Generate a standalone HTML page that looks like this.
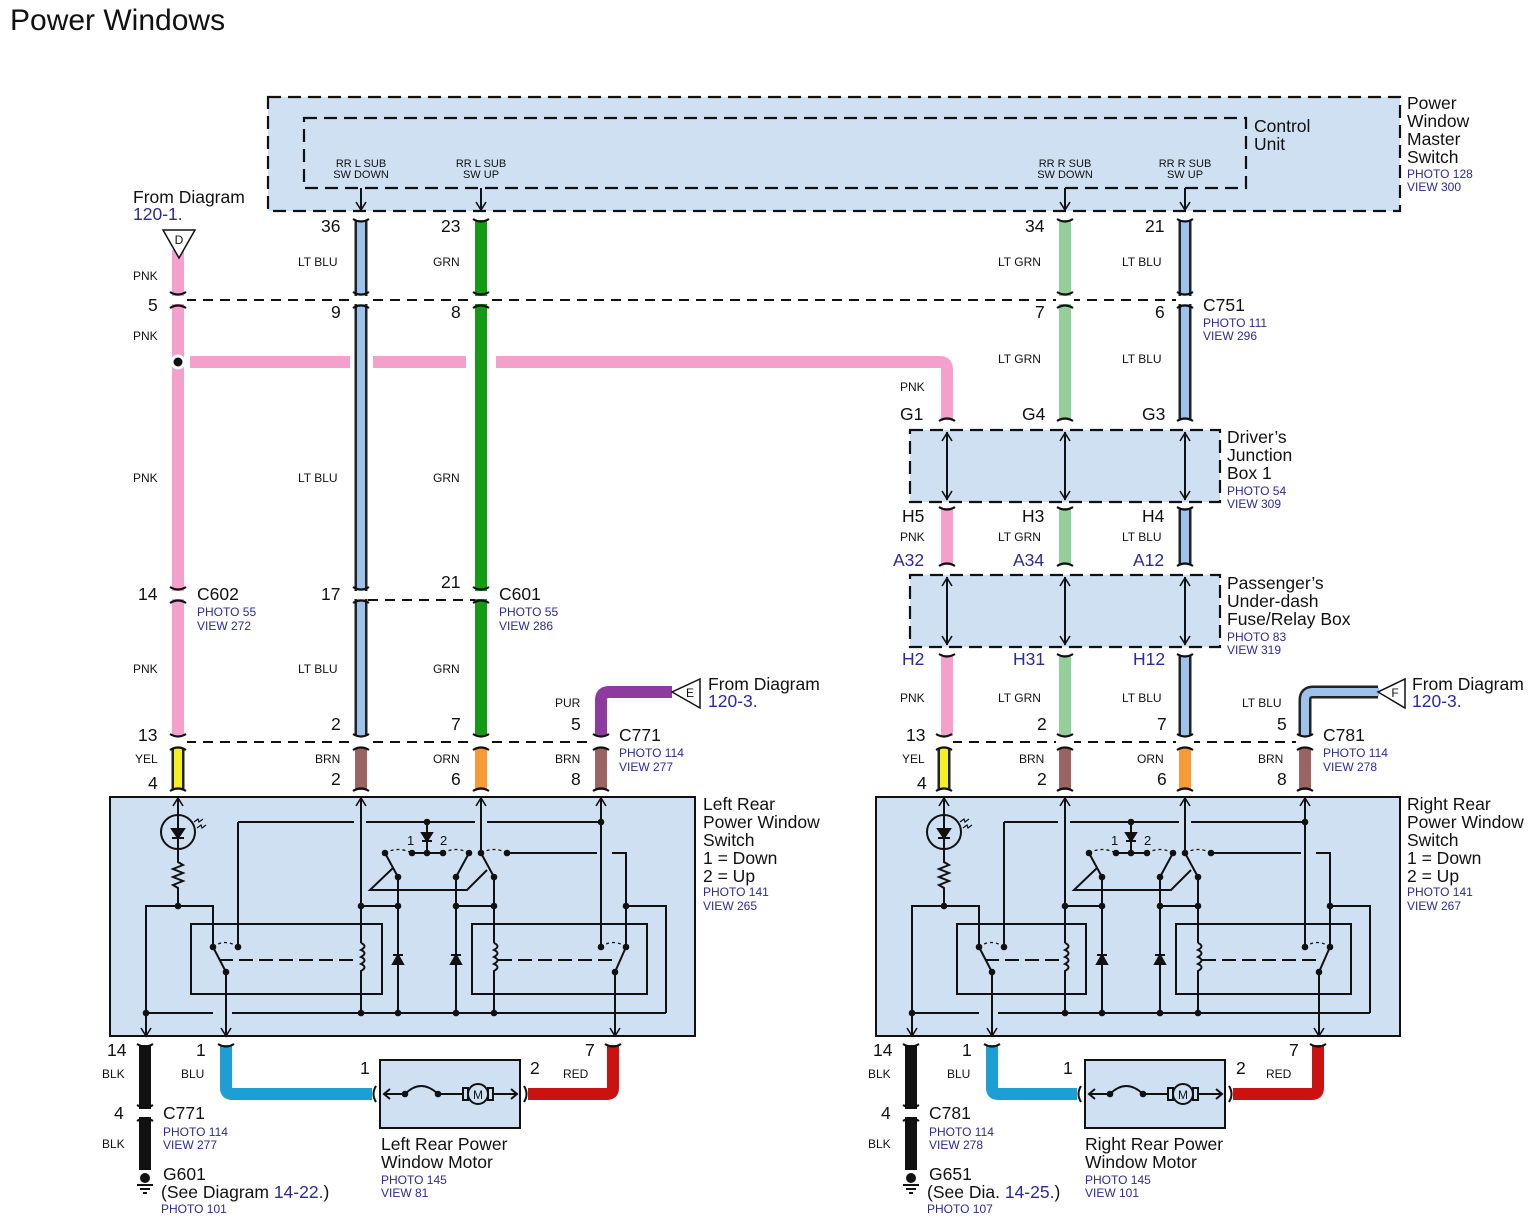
<!DOCTYPE html>
<html><head><meta charset="utf-8">
<style>
html,body{margin:0;padding:0;background:#fff;}
svg{display:block;font-family:"Liberation Sans",sans-serif;}
.s{font-size:12px;fill:#111;}
.m{font-size:17.5px;fill:#111;}
.b{font-size:12px;fill:#2a2a9a;}
.bm{font-size:17.5px;fill:#2a2a9a;}
.k{stroke:#111;stroke-width:2;fill:none;}
.d{stroke:#111;stroke-width:2.2;stroke-dasharray:13 7;}
.dd{stroke:#111;stroke-width:1.3;fill:none;stroke-dasharray:3 3;}
</style></head><body>
<svg width="1534" height="1223" viewBox="0 0 1534 1223" xmlns="http://www.w3.org/2000/svg">
<defs>
<g id="brk"><rect x="-9" y="-4" width="18" height="8" fill="#fff"/><path d="M-8,-8 Q0,-3 8,-8 M-8,8 Q0,3 8,8" stroke="#111" stroke-width="2.2" fill="none"/></g>
<g id="capT"><path d="M-8,-3 Q0,2 8,-3" stroke="#111" stroke-width="2.2" fill="none"/></g>
<g id="capB"><path d="M-8,3 Q0,-2 8,3" stroke="#111" stroke-width="2.2" fill="none"/></g>
<path id="au" d="M-5,8 L0,0 L5,8" stroke="#111" stroke-width="1.6" fill="none"/>
<path id="ad" d="M-5,-8 L0,0 L5,-8" stroke="#111" stroke-width="1.6" fill="none"/>
<circle id="dot" r="3.3" fill="#111"/>
<g id="partA">
<line x1="178" y1="797" x2="178" y2="815" class="k"/>
<use href="#au" x="178" y="798"/>
<circle cx="178" cy="832" r="17" class="k" stroke-width="2.5"/>
<path d="M172,829 L184,829 L178,838 Z M172,838 L184,838 M178,815 L178,849" class="k" style="fill:#111"/>
<path d="M194,822 l4,-3 l1,3 l4,-3 M197,828 l4,-3 l1,3 l4,-3" stroke="#111" stroke-width="1.2" fill="none"/>
<path d="M178,849 L178,862 l5,3 l-10,4 l10,4 l-10,4 l10,4 l-10,4 l5,3 L178,906" class="k"/>
<use href="#dot" x="178" y="906"/>
<path d="M146,1036 L146,906 L213,906 L213,947" class="k"/>
<use href="#ad" x="146" y="1036"/>
<use href="#dot" x="146" y="1013"/>
<use href="#dot" x="213" y="947"/>
<use href="#dot" x="238" y="947"/>
<path d="M213,947 Q225,938 238,947" class="dd"/>
<path d="M238,822 L238,947" class="k"/>
<path d="M213,947 L226,972 L226,1036" class="k"/>
<use href="#dot" x="226" y="972"/>
<use href="#ad" x="226" y="1036"/>
</g>
<g id="partB">
<path d="M366,822 L475,822 M487,822 L601,822" class="k"/>
<use href="#dot" x="427" y="822"/><use href="#dot" x="601" y="822"/>
<path d="M427,822 L427,853" class="k"/>
<path d="M422,833 L432,833 L427,841 Z M422,841 L432,841" class="k" style="fill:#111"/>
<text x="407" y="845" class="s" style="font-size:13px">1</text>
<text x="440" y="845" class="s" style="font-size:13px">2</text>
<path d="M412,853 L443,853" class="k"/>
<path d="M385,853 Q398,846 412,853 M443,853 Q456,846 469,853 M481,853 Q494,846 507,853" class="dd"/>
<use href="#dot" x="385" y="853"/><use href="#dot" x="412" y="853"/><use href="#dot" x="427" y="853"/><use href="#dot" x="443" y="853"/><use href="#dot" x="469" y="853"/><use href="#dot" x="481" y="853"/><use href="#dot" x="507" y="853"/>
<path d="M398,877 L385,853 M456,877 L469,853 M494,877 L481,853" class="k" stroke-width="1.5"/>
<path d="M393,868 L370,890 L467,890 L487,870" class="k" stroke-width="1.5"/>
<path d="M361,797 L361,1013 M361,906 L398,906 M398,877 L398,1013 M456,877 L456,1013 M456,906 L494,906 M494,877 L494,1013" class="k"/>
<use href="#au" x="361" y="798"/>
<path d="M481,797 L481,853" class="k"/><use href="#au" x="481" y="798"/>
<use href="#dot" x="398" y="877"/><use href="#dot" x="456" y="877"/><use href="#dot" x="494" y="877"/>
<use href="#dot" x="361" y="906"/><use href="#dot" x="398" y="906"/><use href="#dot" x="456" y="906"/><use href="#dot" x="494" y="906"/>
<use href="#dot" x="361" y="1013"/><use href="#dot" x="398" y="1013"/><use href="#dot" x="456" y="1013"/><use href="#dot" x="494" y="1013"/>
<rect x="355" y="943" width="12" height="32" fill="#cfe0f3"/>
<path d="M361,943 q7,3 0,7 q7,3 0,7 q7,3 0,7 q7,3 0,7 L361,975" class="k"/>
<rect x="488" y="943" width="12" height="32" fill="#cfe0f3"/>
<path d="M494,943 q7,3 0,7 q7,3 0,7 q7,3 0,7 q7,3 0,7 L494,975" class="k"/>
<path d="M393,964 L403,964 L398,955 Z M393,955 L403,955" class="k" style="fill:#111" stroke-width="1.5"/>
<path d="M451,964 L461,964 L456,955 Z M451,955 L461,955" class="k" style="fill:#111" stroke-width="1.5"/>
<path d="M507,853 L597,853 M612,853 L626,853 L626,947 M626,906 L666,906 L666,1013" class="k"/>
<use href="#dot" x="626" y="906"/>
<rect x="472" y="924" width="175" height="70" class="k" stroke-width="2.5"/>
<path d="M601,797 L601,947" class="k"/><use href="#au" x="601" y="798"/>
<use href="#dot" x="601" y="947"/><use href="#dot" x="626" y="947"/>
<path d="M601,947 Q613,938 626,947" class="dd"/>
<path d="M626,947 L615,972 L615,1036" class="k"/>
<use href="#dot" x="615" y="972"/>
<use href="#ad" x="615" y="1036"/>
<path d="M498,960 L615,960" class="k" stroke-width="1.3" stroke-dasharray="14 6"/>
</g>
<g id="motor">
<rect x="380" y="1060" width="140" height="68" fill="#cfe0f3" stroke="#111" stroke-width="2"/>
<path d="M384,1094 L405,1094 M438,1094 L463,1094 M493,1094 L517,1094" class="k" stroke-width="1.5"/>
<path d="M390,1089 L384,1094 L390,1099 M511,1089 L517,1094 L511,1099" class="k" stroke-width="1.5"/>
<path d="M405,1094 Q421,1078 438,1094" class="k" stroke-width="1.5"/>
<use href="#dot" x="405" y="1094"/><use href="#dot" x="438" y="1094"/>
<rect x="463" y="1088" width="5" height="12" class="k" stroke-width="1.5"/>
<rect x="488" y="1088" width="5" height="12" class="k" stroke-width="1.5"/>
<circle cx="478" cy="1094" r="10" class="k" style="fill:#cfe0f3" stroke-width="1.5"/>
<text x="478" y="1099" text-anchor="middle" class="s" style="font-size:12px">M</text>
<path d="M376,1086 Q371,1094 376,1102 M524,1086 Q529,1094 524,1102" class="k" stroke-width="2.5"/>
</g>
</defs>

<text x="10" y="30" style="font-size:30px" fill="#111">Power Windows</text>

<rect x="268" y="97" width="1132" height="114" class="d" style="fill:#cfe0f3"/>
<rect x="304" y="118" width="942" height="70" class="d" style="fill:none"/>
<g class="s" style="font-size:11px" text-anchor="middle">
<text x="361" y="167">RR L SUB</text><text x="361" y="178">SW DOWN</text>
<text x="481" y="167">RR L SUB</text><text x="481" y="178">SW UP</text>
<text x="1065" y="167">RR R SUB</text><text x="1065" y="178">SW DOWN</text>
<text x="1185" y="167">RR R SUB</text><text x="1185" y="178">SW UP</text>
</g>
<path d="M361,188 L361,210 M481,188 L481,210 M1065,188 L1065,210 M1185,188 L1185,210" class="k" stroke-width="1.5"/>
<use href="#ad" x="361" y="210"/><use href="#ad" x="481" y="210"/><use href="#ad" x="1065" y="210"/><use href="#ad" x="1185" y="210"/>
<text x="1254" y="132" class="m">Control</text><text x="1254" y="150" class="m">Unit</text>
<text x="1407" y="109" class="m">Power</text><text x="1407" y="127" class="m">Window</text><text x="1407" y="145" class="m">Master</text><text x="1407" y="163" class="m">Switch</text>
<text x="1407" y="178" class="b">PHOTO 128</text><text x="1407" y="191" class="b">VIEW 300</text>

<rect x="910" y="430" width="310" height="72" class="d" style="fill:#cfe0f3"/>
<rect x="910" y="575" width="310" height="72" class="d" style="fill:#cfe0f3"/>
<g class="k" stroke-width="1.5">
<path d="M947,432 L947,500 M1065,432 L1065,500 M1185,432 L1185,500 M947,577 L947,645 M1065,577 L1065,645 M1185,577 L1185,645"/>
</g>
<use href="#au" x="947" y="433"/><use href="#ad" x="947" y="499"/><use href="#au" x="1065" y="433"/><use href="#ad" x="1065" y="499"/><use href="#au" x="1185" y="433"/><use href="#ad" x="1185" y="499"/>
<use href="#au" x="947" y="578"/><use href="#ad" x="947" y="644"/><use href="#au" x="1065" y="578"/><use href="#ad" x="1065" y="644"/><use href="#au" x="1185" y="578"/><use href="#ad" x="1185" y="644"/>
<text x="1227" y="443" class="m">Driver’s</text><text x="1227" y="461" class="m">Junction</text><text x="1227" y="479" class="m">Box 1</text>
<text x="1227" y="495" class="b">PHOTO 54</text><text x="1227" y="508" class="b">VIEW 309</text>
<text x="1227" y="589" class="m">Passenger’s</text><text x="1227" y="607" class="m">Under-dash</text><text x="1227" y="625" class="m">Fuse/Relay Box</text>
<text x="1227" y="641" class="b">PHOTO 83</text><text x="1227" y="654" class="b">VIEW 319</text>

<path d="M186,300 L1180,300 M368,600 L476,600 M186,742 L596,742 M952,742 L1300,742" class="k" stroke-width="1.5" stroke-dasharray="10 7"/>

<g fill="none" stroke-linecap="butt">
<path d="M178,250 L178,736" stroke="#f4a0cc" stroke-width="12"/>
<path d="M190,362 L350,362 M373,362 L466,362 M496,362 L940,362 Q947,362 947,370 L947,420" stroke="#f4a0cc" stroke-width="12"/>
<path d="M947,508 L947,565 M947,655 L947,736" stroke="#f4a0cc" stroke-width="12"/>
<path d="M361,220 L361,736" stroke="#222" stroke-width="13"/><path d="M361,220 L361,736" stroke="#9dc3ec" stroke-width="8"/>
<path d="M481,220 L481,736" stroke="#159a15" stroke-width="12"/>
<path d="M1065,220 L1065,420 M1065,508 L1065,565 M1065,655 L1065,736" stroke="#93cf98" stroke-width="12"/>
<path d="M1185,220 L1185,420 M1185,508 L1185,565 M1185,655 L1185,736" stroke="#222" stroke-width="13"/>
<path d="M1185,220 L1185,420 M1185,508 L1185,565 M1185,655 L1185,736" stroke="#9dc3ec" stroke-width="8"/>
<path d="M601,736 L601,700 Q601,692 609,692 L672,692" stroke="#8e3a9e" stroke-width="12"/>
<path d="M1305,736 L1305,700 Q1305,692 1313,692 L1378,692" stroke="#222" stroke-width="13"/>
<path d="M1305,736 L1305,700 Q1305,692 1313,692 L1379,692" stroke="#9dc3ec" stroke-width="8"/>
<path d="M178,748 L178,790" stroke="#222" stroke-width="13"/><path d="M178,748 L178,790" stroke="#f5ee20" stroke-width="8"/>
<path d="M944,748 L944,790" stroke="#222" stroke-width="13"/><path d="M944,748 L944,790" stroke="#f5ee20" stroke-width="8"/>
<path d="M361,748 L361,790 M601,748 L601,790 M1065,748 L1065,790 M1305,748 L1305,790" stroke="#9a6462" stroke-width="12"/>
<path d="M481,748 L481,790 M1185,748 L1185,790" stroke="#f89a35" stroke-width="12"/>
<path d="M145,1045 L145,1170 M911,1045 L911,1170" stroke="#111" stroke-width="12"/>
<path d="M226,1045 L226,1088 Q226,1094 232,1094 L372,1094" stroke="#1e9fd4" stroke-width="12"/>
<path d="M992,1045 L992,1088 Q992,1094 998,1094 L1077,1094" stroke="#1e9fd4" stroke-width="12"/>
<path d="M528,1094 L607,1094 Q613,1094 613,1088 L613,1045" stroke="#cc1111" stroke-width="12"/>
<path d="M1233,1094 L1312,1094 Q1318,1094 1318,1088 L1318,1045" stroke="#cc1111" stroke-width="12"/>
</g>
<circle cx="178" cy="362" r="6" fill="#111" stroke="#fff" stroke-width="3"/>

<use href="#brk" x="178" y="300"/><use href="#brk" x="361" y="300"/><use href="#brk" x="481" y="300"/><use href="#brk" x="1065" y="300"/><use href="#brk" x="1185" y="300"/>
<use href="#brk" x="178" y="595"/><use href="#brk" x="361" y="595"/><use href="#brk" x="481" y="595"/>
<use href="#brk" x="178" y="742"/><use href="#brk" x="361" y="742"/><use href="#brk" x="481" y="742"/><use href="#brk" x="601" y="742"/>
<use href="#brk" x="944" y="742"/><use href="#brk" x="1065" y="742"/><use href="#brk" x="1185" y="742"/><use href="#brk" x="1305" y="742"/>
<use href="#brk" x="145" y="1113"/><use href="#brk" x="911" y="1113"/>
<g>
<use href="#capT" x="361" y="222"/><use href="#capT" x="481" y="222"/><use href="#capT" x="1065" y="222"/><use href="#capT" x="1185" y="222"/>
<use href="#capB" x="947" y="418"/><use href="#capB" x="1065" y="418"/><use href="#capB" x="1185" y="418"/>
<use href="#capT" x="947" y="510"/><use href="#capT" x="1065" y="510"/><use href="#capT" x="1185" y="510"/>
<use href="#capB" x="947" y="563"/><use href="#capB" x="1065" y="563"/><use href="#capB" x="1185" y="563"/>
<use href="#capT" x="947" y="657"/><use href="#capT" x="1065" y="657"/><use href="#capT" x="1185" y="657"/>
<use href="#capB" x="178" y="788"/><use href="#capB" x="361" y="788"/><use href="#capB" x="481" y="788"/><use href="#capB" x="601" y="788"/>
<use href="#capB" x="944" y="788"/><use href="#capB" x="1065" y="788"/><use href="#capB" x="1185" y="788"/><use href="#capB" x="1305" y="788"/>
<use href="#capT" x="145" y="1047"/><use href="#capT" x="226" y="1047"/><use href="#capT" x="613" y="1047"/>
<use href="#capT" x="911" y="1047"/><use href="#capT" x="992" y="1047"/><use href="#capT" x="1318" y="1047"/>
</g>

<path d="M163,230 L195,230 L179,258 Z" fill="#fff" stroke="#111" stroke-width="1.5"/><text x="179" y="244" text-anchor="middle" class="s">D</text>
<path d="M700,679 L700,708 L672,692 Z" fill="#fff" stroke="#111" stroke-width="1.5"/><text x="690" y="697" text-anchor="middle" class="s">E</text>
<path d="M1405,679 L1405,708 L1378,692 Z" fill="#fff" stroke="#111" stroke-width="1.5"/><text x="1395" y="697" text-anchor="middle" class="s">F</text>

<g><circle cx="145" cy="1178" r="5" fill="#111"/><path d="M137,1185 L153,1185 M140,1189 L150,1189 M143,1193 L147,1193" class="k" stroke-width="1.3"/></g>
<g><circle cx="911" cy="1178" r="5" fill="#111"/><path d="M903,1185 L919,1185 M906,1189 L916,1189 M909,1193 L913,1193" class="k" stroke-width="1.3"/></g>

<rect x="110" y="797" width="585" height="239" fill="#cfe0f3" stroke="#111" stroke-width="2"/>
<rect x="876" y="797" width="524" height="239" fill="#cfe0f3" stroke="#111" stroke-width="2"/>
<use href="#partA"/><use href="#partB"/>
<path d="M238,822 L354,822 M146,1013 L213,1013 M232,1013 L666,1013" class="k"/>
<rect x="191" y="924" width="191" height="70" class="k" stroke-width="2.5"/>
<path d="M219,960 L356,960" class="k" stroke-width="1.3" stroke-dasharray="14 6"/>
<use href="#partA" x="766"/><use href="#partB" x="704"/>
<path d="M1004,822 L1058,822 M912,1013 L979,1013 M998,1013 L1370,1013" class="k"/>
<rect x="957" y="924" width="129" height="70" class="k" stroke-width="2.5"/>
<path d="M985,960 L1060,960" class="k" stroke-width="1.3" stroke-dasharray="14 6"/>

<use href="#motor"/><use href="#motor" x="705"/>

<text x="133" y="203" class="m">From Diagram</text><text x="133" y="220" class="bm">120-1.</text>
<g class="s">
<text x="133" y="280">PNK</text><text x="133" y="340">PNK</text><text x="133" y="482">PNK</text><text x="133" y="673">PNK</text><text x="135" y="763">YEL</text>
<text x="298" y="266">LT BLU</text><text x="298" y="482">LT BLU</text><text x="298" y="673">LT BLU</text><text x="315" y="763">BRN</text>
<text x="433" y="266">GRN</text><text x="433" y="482">GRN</text><text x="433" y="673">GRN</text><text x="433" y="763">ORN</text>
<text x="555" y="707">PUR</text><text x="555" y="763">BRN</text>
<text x="998" y="266">LT GRN</text><text x="998" y="363">LT GRN</text><text x="998" y="541">LT GRN</text><text x="998" y="702">LT GRN</text><text x="1019" y="763">BRN</text>
<text x="1122" y="266">LT BLU</text><text x="1122" y="363">LT BLU</text><text x="1122" y="541">LT BLU</text><text x="1122" y="702">LT BLU</text><text x="1137" y="763">ORN</text>
<text x="900" y="391">PNK</text><text x="900" y="541">PNK</text><text x="900" y="702">PNK</text><text x="902" y="763">YEL</text>
<text x="1242" y="707">LT BLU</text><text x="1258" y="763">BRN</text>
<text x="102" y="1078">BLK</text><text x="181" y="1078">BLU</text><text x="563" y="1078">RED</text><text x="102" y="1148">BLK</text>
<text x="868" y="1078">BLK</text><text x="947" y="1078">BLU</text><text x="1266" y="1078">RED</text><text x="868" y="1148">BLK</text>
</g>
<g class="m">
<text x="148" y="311">5</text><text x="138" y="600">14</text><text x="138" y="741">13</text><text x="148" y="789">4</text>
<text x="321" y="232">36</text><text x="331" y="318">9</text><text x="321" y="600">17</text><text x="331" y="730">2</text><text x="331" y="785">2</text>
<text x="441" y="232">23</text><text x="451" y="318">8</text><text x="441" y="588">21</text><text x="451" y="730">7</text><text x="451" y="785">6</text>
<text x="571" y="730">5</text><text x="571" y="785">8</text>
<text x="1025" y="232">34</text><text x="1035" y="318">7</text><text x="1022" y="420">G4</text><text x="1022" y="522">H3</text><text x="1037" y="730">2</text><text x="1037" y="785">2</text>
<text x="1145" y="232">21</text><text x="1155" y="318">6</text><text x="1142" y="420">G3</text><text x="1142" y="522">H4</text><text x="1157" y="730">7</text><text x="1157" y="785">6</text>
<text x="900" y="420">G1</text><text x="902" y="522">H5</text><text x="906" y="741">13</text><text x="917" y="789">4</text>
<text x="1277" y="730">5</text><text x="1277" y="785">8</text>
<text x="107" y="1056">14</text><text x="196" y="1056">1</text><text x="360" y="1074">1</text><text x="530" y="1074">2</text><text x="585" y="1056">7</text><text x="114" y="1119">4</text>
<text x="873" y="1056">14</text><text x="962" y="1056">1</text><text x="1063" y="1074">1</text><text x="1236" y="1074">2</text><text x="1289" y="1056">7</text><text x="881" y="1119">4</text>
</g>
<g class="bm">
<text x="893" y="566">A32</text><text x="1013" y="566">A34</text><text x="1133" y="566">A12</text>
<text x="902" y="665">H2</text><text x="1013" y="665">H31</text><text x="1133" y="665">H12</text>
</g>
<text x="197" y="600" class="m">C602</text><text x="197" y="616" class="b">PHOTO 55</text><text x="197" y="630" class="b">VIEW 272</text>
<text x="499" y="600" class="m">C601</text><text x="499" y="616" class="b">PHOTO 55</text><text x="499" y="630" class="b">VIEW 286</text>
<text x="1203" y="311" class="m">C751</text><text x="1203" y="327" class="b">PHOTO 111</text><text x="1203" y="340" class="b">VIEW 296</text>
<text x="619" y="741" class="m">C771</text><text x="619" y="757" class="b">PHOTO 114</text><text x="619" y="771" class="b">VIEW 277</text>
<text x="1323" y="741" class="m">C781</text><text x="1323" y="757" class="b">PHOTO 114</text><text x="1323" y="771" class="b">VIEW 278</text>
<text x="708" y="690" class="m">From Diagram</text><text x="708" y="707" class="bm">120-3.</text>
<text x="1412" y="690" class="m">From Diagram</text><text x="1412" y="707" class="bm">120-3.</text>
<text x="703" y="810" class="m">Left Rear</text><text x="703" y="828" class="m">Power Window</text><text x="703" y="846" class="m">Switch</text><text x="703" y="864" class="m">1 = Down</text><text x="703" y="882" class="m">2 = Up</text>
<text x="703" y="896" class="b">PHOTO 141</text><text x="703" y="910" class="b">VIEW 265</text>
<text x="1407" y="810" class="m">Right Rear</text><text x="1407" y="828" class="m">Power Window</text><text x="1407" y="846" class="m">Switch</text><text x="1407" y="864" class="m">1 = Down</text><text x="1407" y="882" class="m">2 = Up</text>
<text x="1407" y="896" class="b">PHOTO 141</text><text x="1407" y="910" class="b">VIEW 267</text>
<text x="163" y="1119" class="m">C771</text><text x="163" y="1136" class="b">PHOTO 114</text><text x="163" y="1149" class="b">VIEW 277</text>
<text x="163" y="1180" class="m">G601</text><text x="161" y="1198" class="m">(See Diagram <tspan fill="#2a2a9a">14-22.</tspan>)</text><text x="161" y="1213" class="b">PHOTO 101</text>
<text x="381" y="1150" class="m">Left Rear Power</text><text x="381" y="1168" class="m">Window Motor</text><text x="381" y="1184" class="b">PHOTO 145</text><text x="381" y="1197" class="b">VIEW 81</text>
<text x="929" y="1119" class="m">C781</text><text x="929" y="1136" class="b">PHOTO 114</text><text x="929" y="1149" class="b">VIEW 278</text>
<text x="929" y="1180" class="m">G651</text><text x="927" y="1198" class="m">(See  Dia.  <tspan fill="#2a2a9a">14-25.</tspan>)</text><text x="927" y="1213" class="b">PHOTO 107</text>
<text x="1085" y="1150" class="m">Right Rear Power</text><text x="1085" y="1168" class="m">Window Motor</text><text x="1085" y="1184" class="b">PHOTO 145</text><text x="1085" y="1197" class="b">VIEW 101</text>
</svg>
</body></html>
